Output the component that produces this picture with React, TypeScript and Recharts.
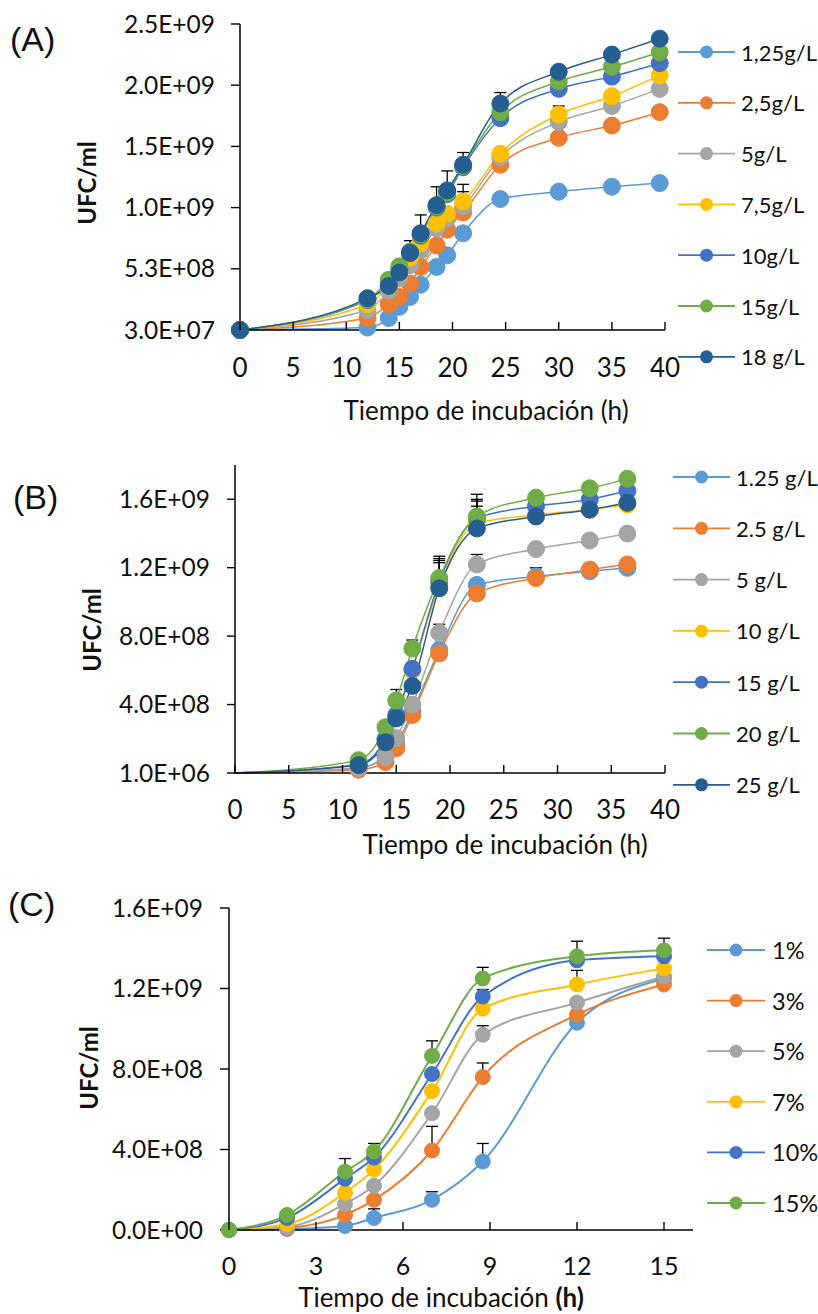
import React from 'react';
import { LineChart, Line, XAxis, YAxis, ErrorBar } from 'recharts';

const FONT = 'Lato, "Open Sans", "DejaVu Sans", sans-serif';
const LETTER_FONT = '"Liberation Sans", Arial, sans-serif';

const colorsA = ['#5B9BD5', '#ED7D31', '#A5A5A5', '#FFC000', '#4472C4', '#70AD47', '#255E91'];
const colorsC = ['#5B9BD5', '#ED7D31', '#A5A5A5', '#FFC000', '#4472C4', '#70AD47'];

// ---------- (A) ----------
const hoursA = [0, 12, 14, 15, 16, 17, 18.5, 19.5, 21, 24.5, 30, 35, 39.5];
const namesA = ['1,25g/L', '2,5g/L', '5g/L', '7,5g/L', '10g/L', '15g/L', '18 g/L'];
const a125 = [3e7, 5e7, 1.28e8, 2.2e8, 3.0e8, 4.0e8, 5.45e8, 6.4e8, 8.2e8, 1.1e9, 1.16e9, 1.2e9, 1.23e9];
const a25 = [3e7, 1.28e8, 2.4e8, 3.0e8, 4.1e8, 5.45e8, 7.2e8, 8.5e8, 9.9e8, 1.38e9, 1.6e9, 1.7e9, 1.81e9];
const a5 = [3e7, 1.93e8, 3.5e8, 4.5e8, 5.6e8, 6.8e8, 8.6e8, 9.4e8, 1.04e9, 1.44e9, 1.73e9, 1.86e9, 2.0e9];
const a75 = [3e7, 2.4e8, 3.9e8, 5.0e8, 6.2e8, 7.4e8, 9.0e8, 9.8e8, 1.08e9, 1.47e9, 1.79e9, 1.94e9, 2.11e9];
const a10 = [3e7, 2.75e8, 4.2e8, 5.3e8, 6.6e8, 8.0e8, 1.03e9, 1.14e9, 1.36e9, 1.76e9, 2.0e9, 2.1e9, 2.21e9];
const a15 = [3e7, 2.8e8, 4.4e8, 5.5e8, 6.7e8, 8.1e8, 1.04e9, 1.15e9, 1.37e9, 1.81e9, 2.06e9, 2.18e9, 2.3e9];
const a18 = [3e7, 2.9e8, 3.9e8, 5.0e8, 6.6e8, 8.2e8, 1.05e9, 1.17e9, 1.38e9, 1.88e9, 2.14e9, 2.28e9, 2.41e9];
// upward error bars (0 = none)
const errA125 = [0, 0, 0, 0, 0, 0, 0, 0, 5e7, 0, 0, 0, 0];
const errA25 = [0, 0, 0, 0, 0, 0, 0, 0, 0, 0, 0, 0, 0];
const errA5 = [0, 0, 0, 0, 0, 0, 0, 0, 1.2e8, 0, 0, 0, 0];
const errA75 = [0, 0, 0, 0, 0, 0, 0, 0, 1.4e8, 0, 7e7, 0, 0];
const errA10 = [0, 0, 0, 0, 0, 0, 0, 0, 0, 0, 0, 0, 0];
const errA15 = [0, 0, 0, 0, 0, 0, 0, 0, 0, 0, 0, 0, 0];
const errA18 = [0, 0, 0, 7e7, 1e8, 1.5e8, 1.5e8, 1.6e8, 1e8, 9e7, 0, 0, 0];
const yTicksA = [3e7, 5.3e8, 1.03e9, 1.53e9, 2.03e9, 2.53e9];
const xTicksAB = [0, 5, 10, 15, 20, 25, 30, 35, 40];

// ---------- (B) ----------
const hoursB = [0, 11.5, 14, 15, 16.5, 19, 22.5, 28, 33, 36.5];
const namesB = ['1.25 g/L', '2.5 g/L', '5 g/L', '10 g/L', '15 g/L', '20 g/L', '25 g/L'];
const b125 = [1e6, 3e7, 1.0e8, 1.7e8, 3.6e8, 7.2e8, 1.1e9, 1.15e9, 1.18e9, 1.2e9];
const b25 = [1e6, 2e7, 6.5e7, 1.46e8, 3.4e8, 7.0e8, 1.05e9, 1.14e9, 1.19e9, 1.22e9];
const b5 = [1e6, 3e7, 9.4e7, 2.05e8, 4.0e8, 8.2e8, 1.22e9, 1.31e9, 1.36e9, 1.4e9];
const b10 = [1e6, 5e7, 2.0e8, 3.3e8, 6.0e8, 1.1e9, 1.46e9, 1.51e9, 1.54e9, 1.57e9];
const b15 = [1e6, 5e7, 2.0e8, 3.4e8, 6.1e8, 1.12e9, 1.49e9, 1.56e9, 1.6e9, 1.65e9];
const b20 = [1e6, 7.6e7, 2.68e8, 4.25e8, 7.28e8, 1.14e9, 1.5e9, 1.61e9, 1.665e9, 1.72e9];
const b25g = [1e6, 4.7e7, 1.8e8, 3.2e8, 5.1e8, 1.08e9, 1.43e9, 1.5e9, 1.54e9, 1.58e9];
const errB125 = [0, 0, 0, 0, 0, 0, 3.5e7, 5e7, 0, 0];
const errB25 = [0, 0, 0, 0, 0, 0, 0, 0, 0, 0];
const errB5 = [0, 0, 0, 0, 0, 5e7, 5.8e7, 0, 0, 0];
const errB10 = [0, 0, 0, 0, 0, 1.3e8, 1.0e8, 0, 0, 0];
const errB15 = [0, 0, 0, 0, 0, 1.34e8, 1.1e8, 0, 0, 0];
const errB20 = [0, 0, 0, 6.4e7, 5e7, 1.28e8, 1.3e8, 0, 0, 0];
const errB25g = [0, 0, 0, 0, 0, 1.63e8, 1.6e8, 0, 0, 0];
const yTicksB = [1e6, 4.01e8, 8.01e8, 1.201e9, 1.601e9];

// ---------- (C) ----------
const hoursC = [0, 2, 4, 5, 7, 8.75, 12, 15];
const namesC = ['1%', '3%', '5%', '7%', '10%', '15%'];
const c1 = [0, 5e6, 2e7, 6e7, 1.5e8, 3.4e8, 1.03e9, 1.25e9];
const c3 = [0, 1e7, 7.5e7, 1.5e8, 3.95e8, 7.6e8, 1.07e9, 1.22e9];
const c5 = [0, 1.5e7, 1.3e8, 2.2e8, 5.8e8, 9.7e8, 1.13e9, 1.26e9];
const c7 = [0, 3e7, 1.85e8, 3.0e8, 6.9e8, 1.1e9, 1.22e9, 1.3e9];
const c10 = [0, 6e7, 2.55e8, 3.6e8, 7.75e8, 1.16e9, 1.34e9, 1.36e9];
const c15 = [0, 7.5e7, 2.9e8, 3.9e8, 8.65e8, 1.25e9, 1.36e9, 1.39e9];
const errC1 = [0, 0, 0, 4.5e7, 4e7, 9e7, 0, 0];
const errC3 = [0, 0, 0, 0, 1.2e8, 7e7, 0, 0];
const errC5 = [0, 0, 0, 0, 0, 4.5e7, 0, 0];
const errC7 = [0, 0, 0, 0, 0, 0, 7e7, 0];
const errC10 = [0, 0, 0, 0, 0, 3.5e7, 0, 0];
const errC15 = [0, 0, 6.5e7, 4e7, 7.5e7, 5.5e7, 7.5e7, 6e7];
const yTicksC = [0, 4e8, 8e8, 1.2e9, 1.6e9];
const xTicksC = [0, 3, 6, 9, 12, 15];

const sci = (v: number) => {
  const [m, e] = v.toExponential(1).split('e');
  const n = parseInt(e, 10);
  return `${m}E${n < 0 ? '-' : '+'}${String(Math.abs(n)).padStart(2, '0')}`;
};

const buildRows = (hours: number[], series: number[][], errs: number[][]) =>
  hours.map((t, i) => {
    const row: Record<string, any> = { t };
    series.forEach((s, k) => {
      row[`s${k}`] = s[i];
      row[`e${k}`] = errs[k][i] > 0 ? [0, errs[k][i]] : undefined;
    });
    return row;
  });

type Cfg = {
  top: number;
  height: number;
  hours: number[];
  series: number[][];
  errors: number[][];
  colors: string[];
  xDomain: [number, number];
  xTicks: number[];
  yDomain: [number, number];
  yTicks: number[];
  margin: { top: number; right: number; bottom: number; left: number };
  yWidth: number;
  xHeight: number;
  yTickSize: number;
  yTickMargin: number;
  xTickFont: number;
  xLabelDy: number;
  titleX: number;
  titleY: number;
  boldH?: boolean;
  yLabelX: number;
  yLabelY: number;
  lineWidth: number;
  dotR: number;
  skipFirstDot?: boolean;
};

const XTick = ({ x, y, payload, dy, fs }: any) => (
  <g>
    <line x1={x} x2={x} y1={y} y2={y - 8} stroke="#000" strokeWidth={1.4} />
    <text x={x} y={y + dy} textAnchor="middle" fontFamily={FONT} fontSize={fs} fill="#111">
      {payload.value}
    </text>
  </g>
);

function Panel({ cfg }: { cfg: Cfg }) {
  const rows = buildRows(cfg.hours, cfg.series, cfg.errors);
  return (
    <div style={{ position: 'absolute', left: 0, top: cfg.top }}>
      <LineChart width={818} height={cfg.height} data={rows} margin={cfg.margin}>
        <XAxis
          type="number"
          dataKey="t"
          domain={cfg.xDomain}
          ticks={cfg.xTicks}
          interval={0}
          height={cfg.xHeight}
          tickSize={0}
          tickMargin={0}
          tickLine={false}
          axisLine={{ stroke: '#000', strokeWidth: 1.5 }}
          tick={(p: any) => <XTick {...p} dy={cfg.xLabelDy} fs={cfg.xTickFont} />}
          label={{
            content: () => (
              <text x={cfg.titleX} y={cfg.titleY} textAnchor="middle" fontFamily={FONT} fontSize={26} fill="#111">
                Tiempo de incubación{' '}
                <tspan fontWeight={cfg.boldH ? 700 : 400}>(h)</tspan>
              </text>
            ),
          }}
        />
        <YAxis
          type="number"
          domain={cfg.yDomain}
          ticks={cfg.yTicks}
          interval={0}
          width={cfg.yWidth}
          tickSize={cfg.yTickSize}
          tickMargin={cfg.yTickMargin}
          tickFormatter={sci}
          axisLine={{ stroke: '#000', strokeWidth: 1.5 }}
          tickLine={{ stroke: '#000', strokeWidth: 1.4 }}
          tick={{ fontSize: 24.5, fontFamily: FONT, fill: '#111' }}
          label={{
            content: () => (
              <text
                x={cfg.yLabelX}
                y={cfg.yLabelY}
                transform={`rotate(-90 ${cfg.yLabelX} ${cfg.yLabelY})`}
                textAnchor="middle"
                dominantBaseline="central"
                fontFamily={FONT}
                fontWeight={700}
                fontSize={24}
                fill="#111"
              >
                UFC/ml
              </text>
            ),
          }}
        />
        {cfg.series.map((_, k) => (
          <Line
            key={k}
            type="monotone"
            dataKey={`s${k}`}
            stroke={cfg.colors[k]}
            strokeWidth={cfg.lineWidth}
            activeDot={false}
            isAnimationActive={false}
            dot={(p: any) =>
              cfg.skipFirstDot && p.index === 0 ? (
                <g key={`d${k}-${p.index}`} />
              ) : (
                <circle
                  key={`d${k}-${p.index}`}
                  cx={p.cx}
                  cy={p.cy}
                  r={cfg.dotR}
                  fill={cfg.colors[k]}
                  stroke={cfg.colors[k]}
                  strokeWidth={1}
                />
              )
            }
          >
            <ErrorBar dataKey={`e${k}`} direction="y" width={6} stroke="#000" strokeWidth={1.3} isAnimationActive={false} />
          </Line>
        ))}
      </LineChart>
    </div>
  );
}

const cfgA: Cfg = {
  top: 0,
  height: 430,
  hours: hoursA,
  series: [a125, a25, a5, a75, a10, a15, a18],
  errors: [errA125, errA25, errA5, errA75, errA10, errA15, errA18],
  colors: colorsA,
  xDomain: [0, 40],
  xTicks: xTicksAB,
  yDomain: [3e7, 2.53e9],
  yTicks: yTicksA,
  margin: { top: 24, right: 153, bottom: 0, left: 0 },
  yWidth: 240,
  xHeight: 100,
  yTickSize: 9,
  yTickMargin: 16,
  xTickFont: 26,
  xLabelDy: 47,
  titleX: 486,
  titleY: 420,
  yLabelX: 86,
  yLabelY: 183,
  lineWidth: 1.5,
  dotR: 8.5,
};

const cfgB: Cfg = {
  top: 430,
  height: 440,
  hours: hoursB,
  series: [b125, b25, b5, b10, b15, b20, b25g],
  errors: [errB125, errB25, errB5, errB10, errB15, errB20, errB25g],
  colors: colorsA,
  xDomain: [0, 40],
  xTicks: xTicksAB,
  yDomain: [1e6, 1.801e9],
  yTicks: yTicksB,
  margin: { top: 35, right: 153, bottom: 0, left: 0 },
  yWidth: 235,
  xHeight: 97,
  yTickSize: 8,
  yTickMargin: 17,
  xTickFont: 26,
  xLabelDy: 46,
  titleX: 505,
  titleY: 424,
  yLabelX: 91,
  yLabelY: 200,
  lineWidth: 1.5,
  dotR: 8.5,
  skipFirstDot: true,
};

const cfgC: Cfg = {
  top: 870,
  height: 444,
  hours: hoursC,
  series: [c1, c3, c5, c7, c10, c15],
  errors: [errC1, errC3, errC5, errC7, errC10, errC15],
  colors: colorsC,
  xDomain: [0, 16],
  xTicks: xTicksC,
  yDomain: [0, 1.6e9],
  yTicks: yTicksC,
  margin: { top: 38, right: 125, bottom: 0, left: 0 },
  yWidth: 229,
  xHeight: 84,
  yTickSize: 9,
  yTickMargin: 17,
  xTickFont: 25,
  xLabelDy: 45,
  titleX: 441,
  titleY: 437,
  boldH: true,
  yLabelX: 88,
  yLabelY: 198,
  lineWidth: 2,
  dotR: 7.5,
};

const Legend = ({ names, colors, x1, x2, tx, y0, step, fs }: any) => (
  <g>
    {names.map((n: string, i: number) => {
      const y = y0 + i * step;
      return (
        <g key={n}>
          <line x1={x1} x2={x2} y1={y} y2={y} stroke={colors[i]} strokeWidth={1.8} />
          <circle cx={(x1 + x2) / 2} cy={y} r={6.5} fill={colors[i]} />
          <text x={tx} y={y} dominantBaseline="central" fontFamily={FONT} fontSize={fs} fill="#111">
            {n}
          </text>
        </g>
      );
    })}
  </g>
);

export default function App() {
  return (
    <div style={{ position: 'absolute', left: 0, top: 0, width: 818, height: 1314, background: '#fff', overflow: 'hidden' }}>
      <Panel cfg={cfgA} />
      <Panel cfg={cfgB} />
      <Panel cfg={cfgC} />
      <svg width={818} height={1314} style={{ position: 'absolute', left: 0, top: 0, pointerEvents: 'none' }}>
        <text x={10} y={51} fontFamily={LETTER_FONT} fontSize={34} fill="#111">(A)</text>
        <text x={13} y={509} fontFamily={LETTER_FONT} fontSize={34} fill="#111">(B)</text>
        <text x={8} y={916} fontFamily={LETTER_FONT} fontSize={34} fill="#111">(C)</text>
        <Legend names={namesA} colors={colorsA} x1={678} x2={735} tx={741} y0={52} step={50.8} fs={22} />
        <Legend names={namesB} colors={colorsA} x1={673} x2={730} tx={736} y0={477} step={51.3} fs={22} />
        <Legend names={namesC} colors={colorsC} x1={707} x2={765} tx={772} y0={950} step={50.6} fs={23.5} />
      </svg>
    </div>
  );
}
